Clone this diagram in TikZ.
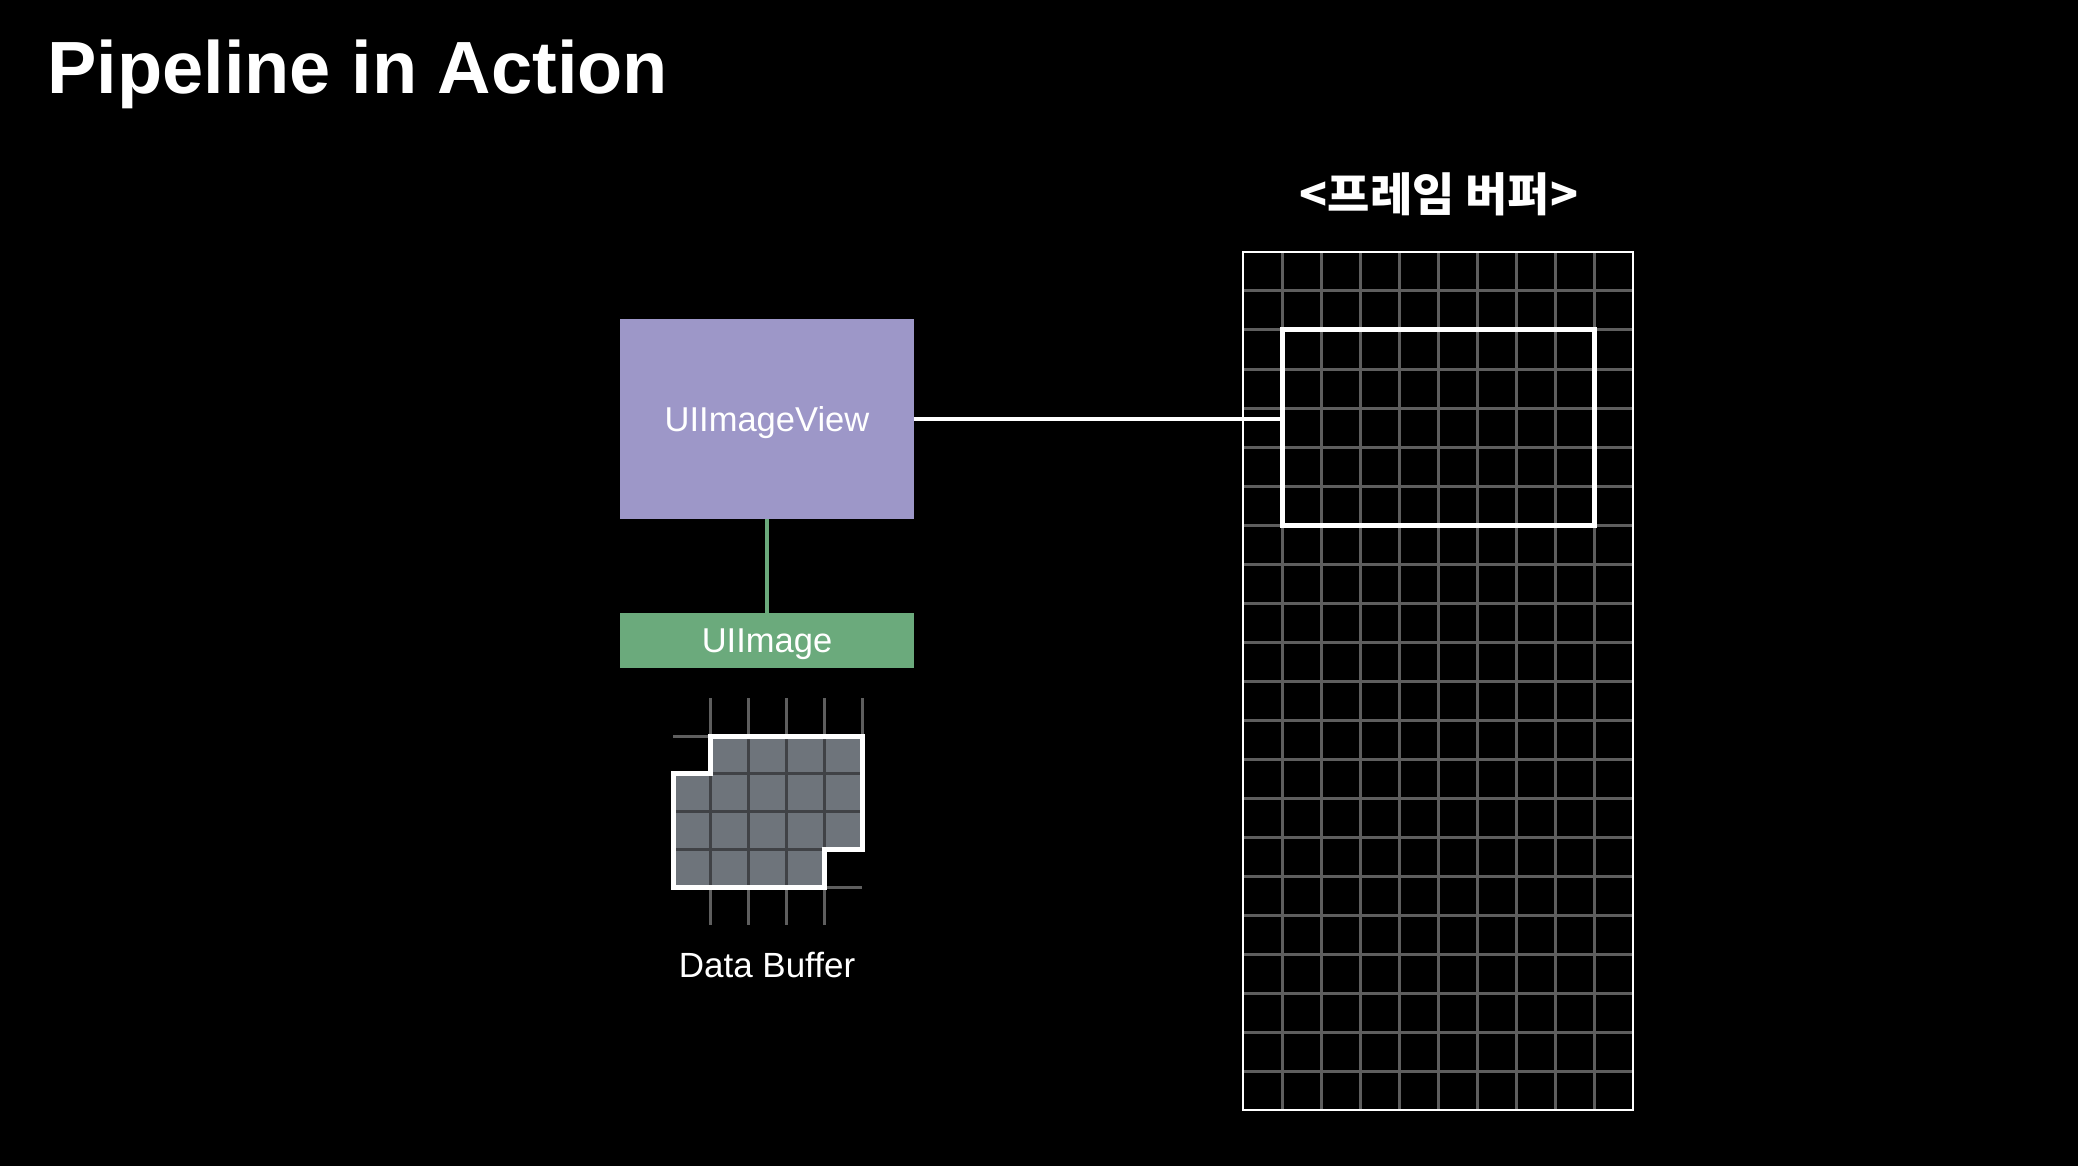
\documentclass[tikz,border=0pt]{standalone}
\usepackage{fontspec}
\setmainfont{Liberation Sans}
\newfontfamily\krfont{Noto Sans CJK KR}
\definecolor{viewpurple}{HTML}{9D97C8}
\definecolor{imggreen}{HTML}{6BAA7C}
\definecolor{bufgray}{HTML}{6E747B}
\definecolor{gridgray}{HTML}{5E5E5E}
\definecolor{griddark}{HTML}{404246}

\begin{document}
\begin{tikzpicture}[x=1pt,y=-1pt,
	box/.style={inner sep=0pt, text=white, font=\fontsize{34.5}{40}\selectfont, text depth=0pt},
	gridline/.style={gridgray, line width=3pt}]
	% background, fixes the size
	\fill[black] (0,0) rectangle (2078,1166);
	
	% title
	\node[anchor=base west, inner sep=0pt, text=white, font=\bfseries\fontsize{74}{80}\selectfont] (title) at (47,94) {Pipeline in Action};
	
	% view and image
	\node[box, fill=viewpurple, minimum width=294pt, minimum height=200pt] (view) at (767,419) {UIImageView};
	\node[box, fill=imggreen, minimum width=294pt, minimum height=55pt] (img) at (767,640.5) {UIImage};
	\draw[imggreen, line width=4pt] (view.south) -- (img.north);
	
	% data buffer, one unit = one cell
	\def\c{37.8} % cell size
	\begin{scope}[shift={(673,736)}, x=\c pt, y=-\c pt]
		\fill[bufgray] (1,0) -- (5,0) -- (5,3) -- (4,3) -- (4,4) -- (0,4) -- (0,1) -- (1,1) -- cycle;
		\begin{scope}
			\clip (1,0) -- (5,0) -- (5,3) -- (4,3) -- (4,4) -- (0,4) -- (0,1) -- (1,1) -- cycle;
			\foreach \i in {1,...,4}
				\draw[griddark, line width=3pt] (\i,0) -- (\i,4);
			\foreach \j in {1,...,3}
				\draw[griddark, line width=3pt] (0,\j) -- (5,\j);
		\end{scope}
		% lines running out of the buffer
		\foreach \i in {1,...,4} {
			\draw[gridline] (\i,-1) -- (\i,0);
			\draw[gridline] (\i,4) -- (\i,5);
		}
		\draw[gridline] (5,-1) -- (5,0);
		\draw[gridline] (0,0) -- (1,0);
		\draw[gridline] (4,4) -- (5,4);
		\draw[white, line width=5pt] (1,0) -- (5,0) -- (5,3) -- (4,3) -- (4,4) -- (0,4) -- (0,1) -- (1,1) -- cycle;
	\end{scope}
	\node[text=white, font=\fontsize{35}{40}\selectfont, anchor=base] (dblabel) at (767,977) {Data Buffer};
	
	% frame buffer, 10 x 22 cells
	\node[text=white, font=\krfont\bfseries\fontsize{46}{50}\selectfont, anchor=base] (fbtitle) at (1439,212) {<프레임 버퍼>};
	\begin{scope}[shift={(1243,252)}, x=39pt, y=-39pt]
		\foreach \i in {1,...,9}
			\draw[gridline] (\i,0) -- (\i,22);
		\foreach \j in {1,...,21}
			\draw[gridline] (0,\j) -- (10,\j);
		\draw[white, line width=2.5pt] (0,0) rectangle (10,22);
		% part of the frame that the view covers
		\node[draw=white, line width=5pt, inner sep=0pt, minimum width=312pt, minimum height=195pt] (win) at (5,4.5) {};
	\end{scope}
	
	\draw[white, line width=4pt] (view.east) -- (view.east -| win.west);
\end{tikzpicture}
\end{document}
